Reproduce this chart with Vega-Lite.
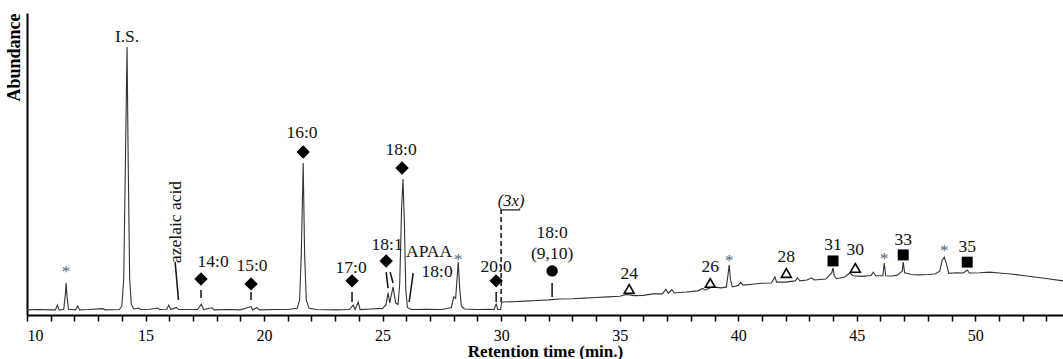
{
  "$schema": "https://vega.github.io/schema/vega-lite/v6.json",
  "width": 1036,
  "height": 302,
  "autosize": {"type": "none"},
  "padding": {"left": 27, "top": 13, "right": 0, "bottom": 44},
  "background": "white",
  "config": {
    "view": {"stroke": null},
    "font": "Liberation Serif",
    "axis": {"grid": false}
  },
  "datasets": {
    "trace": [
      {"t":10.0,"a":1.7},{"t":10.5,"a":1.8},{"t":11.0,"a":1.7},{"t":11.2,"a":1.7},{"t":11.28,"a":3.3},{"t":11.35,"a":1.7},
      {"t":11.55,"a":1.8},{"t":11.62,"a":7},{"t":11.65,"a":10.6},{"t":11.69,"a":6},{"t":11.75,"a":1.9},{"t":12.05,"a":1.7},
      {"t":12.14,"a":3.0},{"t":12.22,"a":1.7},{"t":12.6,"a":1.8},{"t":13.2,"a":2.1},{"t":13.3,"a":1.7},{"t":13.9,"a":1.8},
      {"t":14.0,"a":3},{"t":14.08,"a":12},{"t":14.15,"a":50},{"t":14.22,"a":88.7},{"t":14.27,"a":50},{"t":14.33,"a":12},
      {"t":14.4,"a":3.5},{"t":14.5,"a":2.0},{"t":14.7,"a":2.3},{"t":14.8,"a":1.8},{"t":15.2,"a":1.9},{"t":15.5,"a":2.3},
      {"t":15.6,"a":1.8},{"t":15.9,"a":1.9},{"t":15.98,"a":3.3},{"t":16.06,"a":1.9},{"t":16.2,"a":2.2},{"t":16.3,"a":2.5},
      {"t":16.4,"a":1.8},{"t":17.2,"a":1.8},{"t":17.35,"a":3.6},{"t":17.45,"a":1.8},{"t":17.8,"a":2.4},{"t":17.9,"a":1.7},
      {"t":18.5,"a":1.8},{"t":19.0,"a":1.7},{"t":19.45,"a":2.8},{"t":19.52,"a":1.7},{"t":19.7,"a":2.5},{"t":19.8,"a":1.7},
      {"t":20.5,"a":1.8},{"t":21.0,"a":1.8},{"t":21.4,"a":2.2},{"t":21.5,"a":5},{"t":21.57,"a":20},{"t":21.65,"a":50.3},
      {"t":21.71,"a":20},{"t":21.78,"a":5},{"t":21.9,"a":2.2},{"t":22.2,"a":1.8},{"t":23.0,"a":1.7},{"t":23.6,"a":1.8},
      {"t":23.76,"a":3.3},{"t":23.84,"a":1.8},{"t":23.97,"a":4.3},{"t":24.05,"a":1.8},{"t":24.5,"a":2.0},{"t":25.0,"a":2.2},
      {"t":25.15,"a":3.5},{"t":25.23,"a":7.3},{"t":25.3,"a":4},{"t":25.44,"a":9.3},{"t":25.55,"a":4},{"t":25.65,"a":3.5},
      {"t":25.72,"a":10},{"t":25.8,"a":35},{"t":25.86,"a":45.0},{"t":25.92,"a":30},{"t":25.98,"a":8},{"t":26.05,"a":2.5},
      {"t":26.2,"a":1.8},{"t":26.8,"a":1.9},{"t":27.5,"a":1.8},{"t":27.9,"a":2.5},{"t":28.0,"a":6},{"t":28.08,"a":5.5},
      {"t":28.14,"a":12},{"t":28.19,"a":17.5},{"t":28.25,"a":9},{"t":28.32,"a":3},{"t":28.45,"a":2},{"t":29.0,"a":1.8},
      {"t":29.5,"a":1.9},{"t":29.7,"a":1.8},{"t":29.79,"a":3.6},{"t":29.86,"a":1.8},{"t":29.98,"a":1.8},{"t":30.02,"a":4.3},
      {"t":30.5,"a":4.4},{"t":31.0,"a":4.6},{"t":31.5,"a":4.8},{"t":32.0,"a":5.0},{"t":32.5,"a":5.3},{"t":33.0,"a":5.4},
      {"t":33.5,"a":5.6},{"t":34.0,"a":5.8},{"t":34.5,"a":6.0},{"t":35.0,"a":6.2},{"t":35.3,"a":6.8},{"t":35.6,"a":6.4},
      {"t":36.0,"a":6.5},{"t":36.4,"a":7.0},{"t":36.8,"a":7.0},{"t":36.95,"a":8.5},{"t":37.05,"a":7.2},{"t":37.2,"a":8.4},
      {"t":37.3,"a":7.3},{"t":37.8,"a":7.6},{"t":38.3,"a":8.0},{"t":38.5,"a":8.8},{"t":38.6,"a":8.3},{"t":38.9,"a":9.3},
      {"t":39.3,"a":9.0},{"t":39.5,"a":9.3},{"t":39.58,"a":14},{"t":39.62,"a":16.6},{"t":39.67,"a":12},{"t":39.75,"a":9.3},
      {"t":40.0,"a":9.8},{"t":40.1,"a":10.8},{"t":40.2,"a":9.9},{"t":40.6,"a":10.2},{"t":41.0,"a":10.5},{"t":41.4,"a":10.6},
      {"t":41.55,"a":12.6},{"t":41.62,"a":10.9},{"t":42.0,"a":10.9},{"t":42.4,"a":11.3},{"t":42.5,"a":12.3},{"t":42.6,"a":11.3},
      {"t":42.9,"a":11.6},{"t":43.1,"a":12.3},{"t":43.2,"a":11.6},{"t":43.7,"a":11.9},{"t":43.95,"a":14},{"t":44.0,"a":15.6},
      {"t":44.05,"a":13},{"t":44.15,"a":12.0},{"t":44.5,"a":12.6},{"t":44.7,"a":13.9},{"t":44.85,"a":13.0},{"t":45.2,"a":12.8},
      {"t":45.6,"a":13.1},{"t":45.7,"a":14.2},{"t":45.8,"a":13.0},{"t":46.1,"a":13.0},{"t":46.16,"a":17.2},{"t":46.22,"a":13.0},
      {"t":46.5,"a":12.9},{"t":46.7,"a":13.2},{"t":46.92,"a":14.5},{"t":46.96,"a":17.5},{"t":47.02,"a":14.0},{"t":47.3,"a":13.4},
      {"t":47.6,"a":13.3},{"t":48.0,"a":13.4},{"t":48.3,"a":13.6},{"t":48.5,"a":14.5},{"t":48.6,"a":18},{"t":48.69,"a":19.2},
      {"t":48.78,"a":17},{"t":48.88,"a":13.8},{"t":49.2,"a":14.0},{"t":49.5,"a":13.9},{"t":49.66,"a":14.9},{"t":49.75,"a":13.9},
      {"t":50.2,"a":14.0},{"t":50.6,"a":14.2},{"t":51.0,"a":13.9},{"t":51.5,"a":13.6},{"t":52.0,"a":13.1},{"t":52.5,"a":12.6},
      {"t":53.0,"a":12.1},{"t":53.7,"a":11.3}
    ],
    "labels": [
      {"t":14.22,"a":92,"text":"I.S."},
      {"t":17.85,"a":17.5,"text":"14:0"},
      {"t":19.49,"a":16.2,"text":"15:0"},
      {"t":21.6,"a":60.3,"text":"16:0"},
      {"t":23.67,"a":15.6,"text":"17:0"},
      {"t":25.19,"a":23.2,"text":"18:1"},
      {"t":25.78,"a":54.6,"text":"18:0"},
      {"t":26.96,"a":20.9,"text":"APAA"},
      {"t":27.3,"a":14.2,"text":"18:0"},
      {"t":29.79,"a":15.9,"text":"20:0"},
      {"t":32.15,"a":27.2,"text":"18:0"},
      {"t":32.15,"a":20.2,"text":"(9,10)"},
      {"t":35.4,"a":13.6,"text":"24"},
      {"t":38.82,"a":15.9,"text":"26"},
      {"t":42.03,"a":19.2,"text":"28"},
      {"t":44.0,"a":23.2,"text":"31"},
      {"t":44.94,"a":21.5,"text":"30"},
      {"t":46.96,"a":24.8,"text":"33"},
      {"t":49.66,"a":22.5,"text":"35"}
    ],
    "stars": [
      {"t":11.65,"a":15.6},{"t":28.19,"a":19.5},{"t":39.62,"a":19.2},{"t":46.16,"a":19.9},{"t":48.69,"a":22.5}
    ],
    "markers": [
      {"t":17.34,"a":11.9,"kind":"diamond"},{"t":19.45,"a":10.3,"kind":"diamond"},{"t":21.65,"a":54,"kind":"diamond"},
      {"t":23.71,"a":11.3,"kind":"diamond"},{"t":25.15,"a":17.9,"kind":"diamond"},{"t":25.82,"a":48.7,"kind":"diamond"},
      {"t":29.79,"a":11.3,"kind":"diamond"},
      {"t":32.15,"a":14.6,"kind":"circle"},
      {"t":44.0,"a":17.9,"kind":"square"},{"t":46.96,"a":19.9,"kind":"square"},{"t":49.66,"a":17.5,"kind":"square"},
      {"t":35.4,"a":8.6,"kind":"triangle"},{"t":38.82,"a":10.6,"kind":"triangle"},{"t":42.03,"a":13.9,"kind":"triangle"},{"t":44.94,"a":15.6,"kind":"triangle"}
    ],
    "leaders": [
      {"t":17.34,"a":8.3,"t2":17.34,"a2":5.6},
      {"t":19.45,"a":7.6,"t2":19.45,"a2":5.0},
      {"t":23.71,"a":7.6,"t2":23.71,"a2":4.3},
      {"t":25.15,"a":14.2,"t2":25.23,"a2":8.9},
      {"t":25.32,"a":14.2,"t2":25.44,"a2":10.6},
      {"t":26.29,"a":13.9,"t2":26.12,"a2":4.3},
      {"t":29.79,"a":7.6,"t2":29.79,"a2":4.3},
      {"t":16.25,"a":17.5,"t2":16.39,"a2":5.0},
      {"t":32.15,"a":10.6,"t2":32.15,"a2":6.0}
    ],
    "vertical": [{"t":16.29,"a":30.8,"text":"azelaic acid"}],
    "scale3x": [{"t":30.42,"a":37.7,"text":"(3x)","t1":29.96,"t2":30.8,"a1":34.8,"lo":4.3}]
  },
  "encoding": {
    "x": {"field": "t", "type": "quantitative", "scale": {"domain": [10, 53.7], "nice": false, "zero": false},
      "axis": {"title": "Retention time (min.)", "values": [10,11,12,13,14,15,16,17,18,19,20,21,22,23,24,25,26,27,28,29,30,31,32,33,34,35,36,37,38,39,40,41,42,43,44,45,46,47,48,49,50,51,52,53],
        "labelExpr": "datum.value % 5 === 0 ? datum.label : ''", "labelFont": "Liberation Serif", "labelFontSize": 16, "labelColor": "#000",
        "labelPadding": 6, "tickSize": 6, "tickWidth": 1.5, "tickColor": "#000", "domainColor": "#000", "domainWidth": 2,
        "titleFont": "Liberation Serif", "titleFontSize": 17, "titleFontWeight": "bold", "titleColor": "#000", "titlePadding": 0}},
    "y": {"field": "a", "type": "quantitative", "scale": {"domain": [0, 100], "nice": false},
      "axis": {"title": "Abundance", "labels": false, "ticks": false, "domainColor": "#000", "domainWidth": 2,
        "titleFont": "Liberation Serif", "titleFontSize": 18, "titleFontWeight": "bold", "titleColor": "#000",
        "titleAnchor": "end", "titlePadding": 4}}
  },
  "layer": [
    {"data": {"name": "trace"}, "mark": {"type": "line", "color": "#333", "strokeWidth": 1.1, "interpolate": "linear"}},
    {"data": {"name": "leaders"}, "mark": {"type": "rule", "color": "#111", "strokeWidth": 1.5},
      "encoding": {"x2": {"field": "t2"}, "y2": {"field": "a2"}}},
    {"data": {"name": "scale3x"}, "mark": {"type": "rule", "color": "#111", "strokeWidth": 1.5, "strokeDash": [5, 3]},
      "encoding": {"x": {"datum": 30}, "y": {"field": "lo"}, "y2": {"field": "a1"}}},
    {"data": {"name": "scale3x"}, "mark": {"type": "rule", "color": "#111", "strokeWidth": 1.2},
      "encoding": {"x": {"field": "t1"}, "x2": {"field": "t2"}, "y": {"field": "a1"}}},
    {"data": {"name": "scale3x"}, "mark": {"type": "text", "font": "Liberation Serif", "fontSize": 16.5, "fontStyle": "italic", "color": "#111", "baseline": "middle"},
      "encoding": {"text": {"field": "text"}}},
    {"data": {"name": "labels"}, "mark": {"type": "text", "font": "Liberation Serif", "fontSize": 17.5, "color": "#111", "baseline": "middle"},
      "encoding": {"text": {"field": "text"}}},
    {"data": {"name": "vertical"}, "mark": {"type": "text", "font": "Liberation Serif", "fontSize": 17.5, "color": "#111", "baseline": "middle", "angle": 270},
      "encoding": {"text": {"field": "text"}}},
    {"data": {"name": "stars"}, "mark": {"type": "text", "font": "Liberation Serif", "fontSize": 17, "color": "#4a6685", "baseline": "middle", "dy": 4},
      "encoding": {"text": {"value": "*"}}},
    {"data": {"name": "markers"}, "transform": [{"filter": "datum.kind === 'diamond'"}],
      "mark": {"type": "point", "shape": "diamond", "filled": true, "color": "#000", "size": 180, "opacity": 1}},
    {"data": {"name": "markers"}, "transform": [{"filter": "datum.kind === 'square'"}],
      "mark": {"type": "point", "shape": "square", "filled": true, "color": "#000", "size": 120, "opacity": 1}},
    {"data": {"name": "markers"}, "transform": [{"filter": "datum.kind === 'circle'"}],
      "mark": {"type": "point", "shape": "circle", "filled": true, "color": "#000", "size": 130, "opacity": 1}},
    {"data": {"name": "markers"}, "transform": [{"filter": "datum.kind === 'triangle'"}],
      "mark": {"type": "point", "shape": "triangle-up", "filled": false, "color": "#000", "strokeWidth": 1.6, "size": 100, "opacity": 1}}
  ]
}
